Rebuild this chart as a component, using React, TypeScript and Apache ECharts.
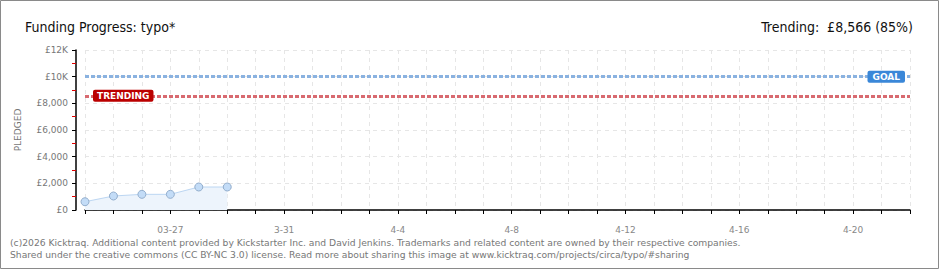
import React, { useEffect, useRef } from "react";
import * as echarts from "echarts";

const categories = [
  "3-24", "3-25", "3-26", "03-27", "3-28", "3-29", "3-30", "3-31",
  "4-1", "4-2", "4-3", "4-4", "4-5", "4-6", "4-7", "4-8", "4-9", "4-10",
  "4-11", "4-12", "4-13", "4-14", "4-15", "4-16", "4-17", "4-18", "4-19",
  "4-20", "4-21", "4-22",
];
const pledged = [620, 1050, 1175, 1175, 1725, 1725];
const goalValue = 10000;
const trendingValue = 8566;
const yTickValues = [0, 2000, 4000, 6000, 8000, 10000, 12000];
const yTickLabels = ["£0", "£2,000", "£4,000", "£6,000", "£8,000", "£10K", "£12K"];
const titleText = "Funding Progress: typo*";
const trendText = "Trending:  £8,566 (85%)";
const footer1 =
  "(c)2026 Kicktraq. Additional content provided by Kickstarter Inc. and David Jenkins. Trademarks and related content are owned by their respective companies.";
const footer2 =
  "Shared under the creative commons (CC BY-NC 3.0) license. Read more about sharing this image at www.kicktraq.com/projects/circa/typo/#sharing";

export default function App() {
  const ref = useRef<HTMLDivElement>(null);
  useEffect(() => {
    document.body.style.margin = "0";
    const chart = echarts.init(ref.current!, null, { renderer: "svg" });
    const font = "DejaVu Sans";
    const titleFont = { fontFamily: "DejaVu Sans Condensed", fontSize: 14, fontWeight: "normal", color: "#111" };
    chart.setOption({
      animation: false,
      backgroundColor: "#fff",
      title: [
        { text: titleText, left: 20, top: 15, textStyle: titleFont },
        { text: trendText, right: 22, top: 15, textStyle: titleFont },
      ],
      grid: { left: 85, top: 50, width: 825, height: 160 },
      xAxis: {
        type: "category",
        data: categories,
        boundaryGap: false,
        offset: 10,
        axisLine: { lineStyle: { color: "#000", width: 1.5 } },
        axisTick: { show: true, interval: 0, length: 4, lineStyle: { color: "#000" } },
        axisLabel: {
          interval: (i: number) => (i - 3) % 4 === 0,
          color: "#888",
          fontFamily: font,
          fontSize: 9,
          margin: 5,
        },
        splitLine: { show: true, interval: 0, lineStyle: { color: "#e6e6e6", type: [4, 4] } },
      },
      yAxis: {
        type: "value",
        min: 0,
        max: 12000,
        interval: 2000,
        offset: 9,
        name: "PLEDGED",
        nameLocation: "middle",
        nameGap: 54,
        nameTextStyle: { color: "#777", fontFamily: font, fontSize: 9 },
        axisLine: { show: true, lineStyle: { color: "#000", width: 1.5 } },
        axisTick: { show: true, length: 4, lineStyle: { color: "#000" } },
        minorTick: { show: true, splitNumber: 2, length: 4, lineStyle: { color: "#e00000" } },
        axisLabel: {
          color: "#777",
          fontFamily: font,
          fontSize: 9,
          margin: 8,
          formatter: (v: number) => {
            const i = yTickValues.indexOf(v);
            return i >= 0 ? yTickLabels[i] : "";
          },
        },
        splitLine: { show: true, lineStyle: { color: "#e6e6e6", type: [4, 4] } },
      },
      series: [
        {
          type: "line",
          data: pledged,
          symbol: "circle",
          symbolSize: 8,
          itemStyle: { color: "#c3dcf7", borderColor: "#93aecd", borderWidth: 1 },
          lineStyle: { color: "#bcd6f2", width: 1 },
          areaStyle: { color: "#edf4fc", opacity: 1 },
          z: 3,
          markLine: {
            silent: true,
            symbol: ["none", "none"],
            data: [
              {
                yAxis: goalValue,
                lineStyle: { color: "#8ab2e0", width: 3, type: [4, 2] },
                label: {
                  show: true,
                  formatter: "GOAL",
                  position: "insideEnd",
                  distance: 5,
                  backgroundColor: "#3a87d8",
                  color: "#fff",
                  fontFamily: font,
                  fontSize: 9,
                  fontWeight: "bold",
                  padding: [2, 5, 1, 5],
                  borderRadius: 2,
                },
              },
              {
                yAxis: trendingValue,
                lineStyle: { color: "#d86a70", width: 3, type: [4, 2] },
                label: {
                  show: true,
                  formatter: "TRENDING",
                  position: "insideStart",
                  distance: 8,
                  backgroundColor: "#bb0000",
                  color: "#fff",
                  fontFamily: font,
                  fontSize: 9,
                  fontWeight: "bold",
                  padding: [2, 4, 1, 4],
                  borderRadius: 2,
                },
              },
            ],
          },
        },
      ],
      graphic: [
        {
          type: "rect",
          shape: { x: 0.5, y: 0.5, width: 938, height: 268 },
          style: { fill: "none", stroke: "#8a8a8a", lineWidth: 1 },
          silent: true,
        },
        {
          type: "text",
          left: 10,
          top: 238,
          style: { text: footer1, fill: "#777", font: `9.2px "DejaVu Sans"` },
        },
        {
          type: "text",
          left: 10,
          top: 250,
          style: { text: footer2, fill: "#777", font: `9.2px "DejaVu Sans"` },
        },
      ],
    });
    return () => chart.dispose();
  }, []);
  return <div ref={ref} style={{ width: 940, height: 270 }} />;
}
